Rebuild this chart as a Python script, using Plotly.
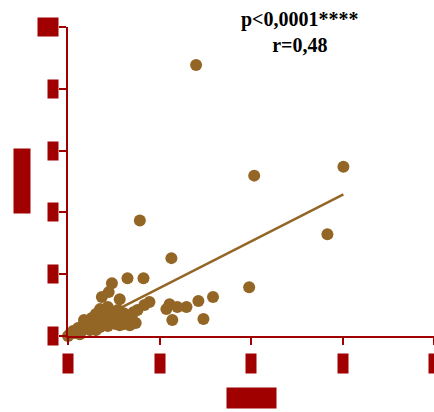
import plotly.graph_objects as go

# ---- data ----
x_vals = [2.80, 6.02, 4.07, 5.67, 1.57, 2.26, 3.96, 3.17, 2.85, 2.59, 2.39, 2.22, 2.15, 2.28, 2.96,
          0.96, 1.30, 1.65, 0.89, 0.74, 1.13, 1.78, 1.67, 1.52, 1.48,
          0.00, 0.04, 0.11, 0.17, 0.22, 0.28, 0.33, 0.39, 0.43, 0.48, 0.52, 0.57, 0.61, 0.65, 0.70,
          0.74, 0.78, 0.83, 0.87, 0.91, 0.96, 1.00, 1.04, 1.09, 1.13, 1.17, 1.22, 1.26, 1.30, 1.35,
          1.39, 1.43, 0.52, 0.35, 0.70, 0.87, 1.04, 1.22, 0.61, 0.26]
y_vals = [8.77, 5.48, 5.19, 3.29, 3.74, 2.52, 1.58, 1.26, 1.13, 0.94, 0.94, 1.03, 0.87, 0.52, 0.55,
          1.71, 1.87, 1.87, 1.42, 1.26, 1.19, 1.10, 1.00, 0.84, 0.42,
          0.00, 0.06, 0.16, 0.10, 0.26, 0.19, 0.35, 0.29, 0.45, 0.19, 0.58, 0.35, 0.71, 0.52, 0.29,
          0.65, 0.45, 0.77, 0.32, 0.58, 0.77, 0.42, 0.65, 0.84, 0.35, 0.58, 0.74, 0.45, 0.65, 0.35,
          0.58, 0.77, 0.26, 0.52, 0.87, 0.94, 0.39, 0.39, 0.19, 0.06]
fit_x = [0.0, 6.02]
fit_y = [0.04, 4.58]

x_ticks = [0, 2, 4, 6, 8]
x_tick_labels = ["0", "2", "4", "6", "8"]
y_ticks = [0, 2, 4, 6, 8, 10]
y_tick_labels = ["0", "2", "4", "6", "8", "10"]
x_title = "Xvar"
y_title = "Yvar"
stats_text = "p<0,0001****<br>r=0,48"

RED = "#A00000"
BROWN = "#936626"
FONT = "Liberation Serif"

fig = go.Figure()
fig.add_trace(go.Scatter(x=fit_x, y=fit_y, mode="lines",
                         line=dict(color=BROWN, width=2.5), hoverinfo="skip",
                         cliponaxis=False, showlegend=False))
fig.add_trace(go.Scatter(x=x_vals, y=y_vals, mode="markers",
                         marker=dict(color=BROWN, size=12, line=dict(width=0)),
                         cliponaxis=False, showlegend=False))

annotations = []
# y tick labels (rendered as boxes as in the reference)
for v, lab in zip(y_ticks, y_tick_labels):
    w = 10 if len(lab) == 1 else 20
    annotations.append(dict(xref="paper", x=0, xanchor="right", xshift=-9,
                            yref="y", y=v, yanchor="middle",
                            text=lab, showarrow=False, width=w, height=18,
                            bgcolor=RED, borderpad=0,
                            font=dict(family=FONT, size=16, color=RED)))
# x tick labels
for v, lab in zip(x_ticks, x_tick_labels):
    annotations.append(dict(xref="x", x=v, xanchor="center",
                            yref="paper", y=0, yanchor="top", yshift=-17,
                            text=lab, showarrow=False, width=10, height=19,
                            bgcolor=RED, borderpad=0,
                            font=dict(family=FONT, size=16, color=RED)))
# axis titles
annotations.append(dict(xref="paper", x=(251.5 - 68) / 366, xanchor="center",
                        yref="paper", y=(336 - 398) / 309, yanchor="middle",
                        text=x_title, showarrow=False, width=49, height=20,
                        bgcolor=RED, borderpad=0,
                        font=dict(family=FONT, size=16, color=RED)))
annotations.append(dict(xref="paper", x=(22 - 68) / 366, xanchor="center",
                        yref="paper", y=(336 - 181) / 309, yanchor="middle",
                        text=y_title, showarrow=False, textangle=-90, width=64, height=16,
                        bgcolor=RED, borderpad=0,
                        font=dict(family=FONT, size=14, color=RED)))
# stats text
annotations.append(dict(xref="paper", x=(300 - 68) / 366, xanchor="center",
                        yref="paper", y=(336 - 32) / 309, yanchor="middle",
                        text="<b>" + stats_text.replace("<br>", "</b><br><b>") + "</b>",
                        showarrow=False, align="center",
                        font=dict(family=FONT, size=20, color="black")))

fig.update_layout(
    width=434, height=412,
    margin=dict(l=68, r=0, t=27, b=76),
    plot_bgcolor="white", paper_bgcolor="white",
    annotations=annotations,
    xaxis=dict(range=[0, 8], tickvals=x_ticks, showticklabels=False,
               showgrid=False, zeroline=False, showline=True, linecolor=RED, linewidth=2,
               ticks="outside", ticklen=7, tickwidth=2, tickcolor=RED),
    yaxis=dict(range=[0, 10], tickvals=y_ticks, showticklabels=False,
               showgrid=False, zeroline=False, showline=True, linecolor=RED, linewidth=2,
               ticks="outside", ticklen=7, tickwidth=2, tickcolor=RED),
)

fig.write_html("out.html")
